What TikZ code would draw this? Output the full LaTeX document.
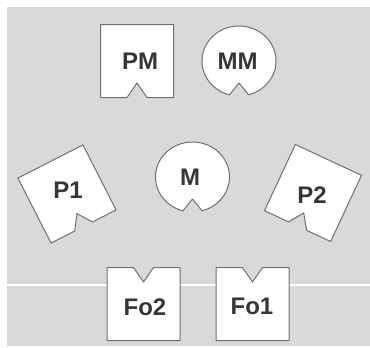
\documentclass[tikz,border=0pt]{standalone}
\usepackage{fontspec}
\setmainfont{Liberation Sans}
\definecolor{bggray}{HTML}{D9D9D9}
\definecolor{edgegray}{HTML}{707070}
\definecolor{inkgray}{HTML}{363636}
\tikzset{line/.style={line width=1pt, draw=edgegray},
piece/.style={line, fill=white, line join=round},
lbl/.style={font=\fontsize{24}{24}\selectfont\bfseries, text=inkgray, inner sep=0pt},
sqpiece/.pic={\draw[piece] (-36.5,-36.5) -- (36.5,-36.5) -- (36.5,36.5) -- (10,36.5) -- (0,22) -- (-10,36.5) -- (-36.5,36.5) -- cycle;},
discpiece/.pic={\draw[piece] (0,22) -- (105:37 and 35) arc[start angle=105, end angle=435, x radius=37, y radius=35] -- cycle;}}

\begin{document}
\begin{tikzpicture}[x=1pt, y=-1pt]
\useasboundingbox (0,0) rectangle (370,348);
% Background
\fill[white] (0,0) rectangle (370,348);
\fill[bggray] (7,7) rectangle (370,346);
\draw[white, line width=2pt] (7,285) -- (370,285);

% Pieces
\pic at (137,61) {sqpiece};
\pic at (239,61) {discpiece};
\pic at (192.5,177) {discpiece};
\pic[rotate=27] at (67,194) {sqpiece};
\pic[rotate=-25] at (313,193) {sqpiece};
\pic[rotate=180] at (143.5,304) {sqpiece};
\pic[rotate=180] at (252.5,304) {sqpiece};

% Labels
\node[lbl] (pm) at (140,61) {PM};
\node[lbl] (mm) at (237.5,61) {MM};
\node[lbl] (m) at (190,177) {M};
\node[lbl] (p1) at (68,190) {P1};
\node[lbl] (p2) at (312,195) {P2};
\node[lbl] (fo2) at (145,307) {Fo2};
\node[lbl] (fo1) at (252,306) {Fo1};
\end{tikzpicture}
\end{document}
